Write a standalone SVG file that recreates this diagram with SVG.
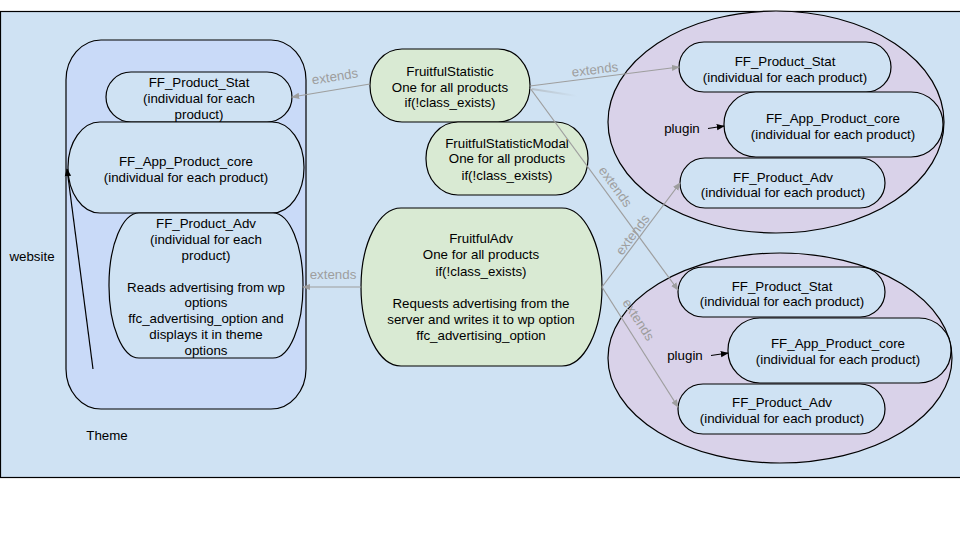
<svg xmlns="http://www.w3.org/2000/svg" width="960" height="540" viewBox="0 0 960 540">
<defs>
<style>
.t{font-family:"Liberation Sans",Arial,sans-serif;font-size:13.33px;fill:#000;text-anchor:middle}
.lbl{font-family:"Liberation Sans",Arial,sans-serif;font-size:13.33px;fill:#9e9e9e;text-anchor:middle}
.n{fill:#cfe2f3;stroke:#000;stroke-width:1.2}
.g{fill:#d9ead3;stroke:#000;stroke-width:1.2}
.e{fill:#d9d2e9;stroke:#000;stroke-width:1.2}
.c{fill:none;stroke:#9e9e9e;stroke-width:1.2}
.k{fill:none;stroke:#000;stroke-width:1.2}
</style>
<linearGradient id="fade" x1="0" y1="0" x2="1" y2="0">
<stop offset="0" stop-color="#9e9e9e" stop-opacity="0.5"/>
<stop offset="1" stop-color="#9e9e9e" stop-opacity="0"/>
</linearGradient>
<marker id="ag" viewBox="0 0 10 10" refX="9" refY="5" markerWidth="8" markerHeight="8" markerUnits="userSpaceOnUse" orient="auto">
<path d="M0,1 L10,5 L0,9 Z" fill="#9e9e9e"/>
</marker>
<marker id="ak" viewBox="0 0 10 10" refX="9" refY="5" markerWidth="8" markerHeight="8" markerUnits="userSpaceOnUse" orient="auto">
<path d="M0,1 L10,5 L0,9 Z" fill="#000"/>
</marker>
</defs>
<rect id="bg" x="0.5" y="11.5" width="962" height="466" fill="#cfe2f3" stroke="#000" stroke-width="1.2"/>
<text class="t" x="32" y="261">website</text>

<g id="theme">
<rect x="66" y="40" width="240" height="369" rx="35" ry="40" fill="#c9daf8" stroke="#000" stroke-width="1.2"/>
<text class="t" x="107" y="440">Theme</text>
</g>
<g id="plugin1">
<ellipse class="e" cx="776" cy="122" rx="168" ry="111"/>
</g>
<g id="plugin2">
<ellipse class="e" cx="780" cy="358" rx="172" ry="105"/>
</g>

<g id="theme-stat">
<rect class="n" x="106" y="72" width="186" height="50" rx="25" ry="25"/>
<text class="t" x="199" y="87">FF_Product_Stat</text>
<text class="t" x="199" y="103">(individual for each</text>
<text class="t" x="199" y="119">product)</text>
</g>
<g id="theme-core">
<rect class="n" x="68" y="122" width="236" height="91" rx="32" ry="45"/>
<text class="t" x="186" y="166">FF_App_Product_core</text>
<text class="t" x="186" y="182">(individual for each product)</text>
</g>
<g id="theme-adv">
<rect class="n" x="109" y="213" width="194" height="145" rx="30" ry="72"/>
<text class="t" x="206" y="228">FF_Product_Adv</text>
<text class="t" x="206" y="244">(individual for each</text>
<text class="t" x="206" y="260">product)</text>
<text class="t" x="206" y="292">Reads advertising from wp</text>
<text class="t" x="206" y="307">options</text>
<text class="t" x="206" y="323">ffc_advertising_option and</text>
<text class="t" x="206" y="339">displays it in theme</text>
<text class="t" x="206" y="355">options</text>
</g>

<g id="fruitful-statistic">
<rect class="g" x="370" y="49" width="160" height="73" rx="32" ry="36"/>
<text class="t" x="450" y="76">FruitfulStatistic</text>
<text class="t" x="450" y="92">One for all products</text>
<text class="t" x="450" y="107">if(!class_exists)</text>
</g>
<g id="fruitful-statistic-modal">
<rect class="g" x="426" y="122" width="162" height="73" rx="32" ry="36"/>
<text class="t" x="507" y="148">FruitfulStatisticModal</text>
<text class="t" x="507" y="163">One for all products</text>
<text class="t" x="507" y="180">if(!class_exists)</text>
</g>
<g id="fruitful-adv">
<rect class="g" x="361" y="208" width="241" height="158" rx="40" ry="79"/>
<text class="t" x="481" y="243">FruitfulAdv</text>
<text class="t" x="481" y="259">One for all products</text>
<text class="t" x="481" y="276">if(!class_exists)</text>
<text class="t" x="481" y="308">Requests advertising from the</text>
<text class="t" x="481" y="324">server and writes it to wp option</text>
<text class="t" x="481" y="340">ffc_advertising_option</text>
</g>

<g id="p1-stat">
<rect class="n" x="679" y="42" width="212" height="50" rx="25" ry="25"/>
<text class="t" x="785" y="66">FF_Product_Stat</text>
<text class="t" x="785" y="82">(individual for each product)</text>
</g>
<g id="p1-core">
<rect class="n" x="724" y="92" width="219" height="65" rx="32" ry="32"/>
<text class="t" x="833" y="123">FF_App_Product_core</text>
<text class="t" x="833" y="139">(individual for each product)</text>
</g>
<g id="p1-adv">
<rect class="n" x="680" y="158" width="205" height="50" rx="25" ry="25"/>
<text class="t" x="783" y="182">FF_Product_Adv</text>
<text class="t" x="783" y="197">(individual for each product)</text>
</g>
<text class="t" x="682" y="133">plugin</text>

<g id="p2-stat">
<rect class="n" x="678" y="267" width="207" height="50" rx="25" ry="25"/>
<text class="t" x="782" y="291">FF_Product_Stat</text>
<text class="t" x="782" y="306">(individual for each product)</text>
</g>
<g id="p2-core">
<rect class="n" x="728" y="318" width="223" height="65" rx="32" ry="32"/>
<text class="t" x="838" y="348">FF_App_Product_core</text>
<text class="t" x="838" y="364">(individual for each product)</text>
</g>
<g id="p2-adv">
<rect class="n" x="678" y="384" width="207" height="50" rx="25" ry="25"/>
<text class="t" x="782" y="407">FF_Product_Adv</text>
<text class="t" x="782" y="423">(individual for each product)</text>
</g>
<text class="t" x="685" y="360">plugin</text>

<g id="connectors">
<line class="k" x1="93" y1="369" x2="67" y2="169" marker-end="url(#ak)"/>
<line class="k" x1="708" y1="128.5" x2="724" y2="126" marker-end="url(#ak)"/>
<line class="k" x1="711" y1="355.5" x2="728" y2="353" marker-end="url(#ak)"/>

<line class="c" x1="370" y1="84" x2="292" y2="97" marker-end="url(#ag)"/>
<text class="lbl" x="335" y="81" transform="rotate(-9 335 77)">extends</text>

<line class="c" x1="530" y1="86" x2="679" y2="67" marker-end="url(#ag)"/>
<text class="lbl" x="595" y="74" transform="rotate(-7 595 70)">extends</text>

<path d="M532,89 L577,96" fill="none" stroke="url(#fade)" stroke-width="2"/>

<line class="c" x1="530" y1="88" x2="678" y2="290" marker-end="url(#ag)"/>
<text class="lbl" x="615" y="191" transform="rotate(54 615 187)">extends</text>

<line class="c" x1="361" y1="287" x2="303" y2="287" marker-end="url(#ag)"/>
<text class="lbl" x="333" y="279">extends</text>

<line class="c" x1="602" y1="287" x2="680" y2="183" marker-end="url(#ag)"/>
<text class="lbl" x="633" y="239" transform="rotate(-53 633 235)">extends</text>

<line class="c" x1="602" y1="287" x2="678" y2="407" marker-end="url(#ag)"/>
<text class="lbl" x="638" y="324" transform="rotate(57 638 320)">extends</text>
</g>
</svg>
